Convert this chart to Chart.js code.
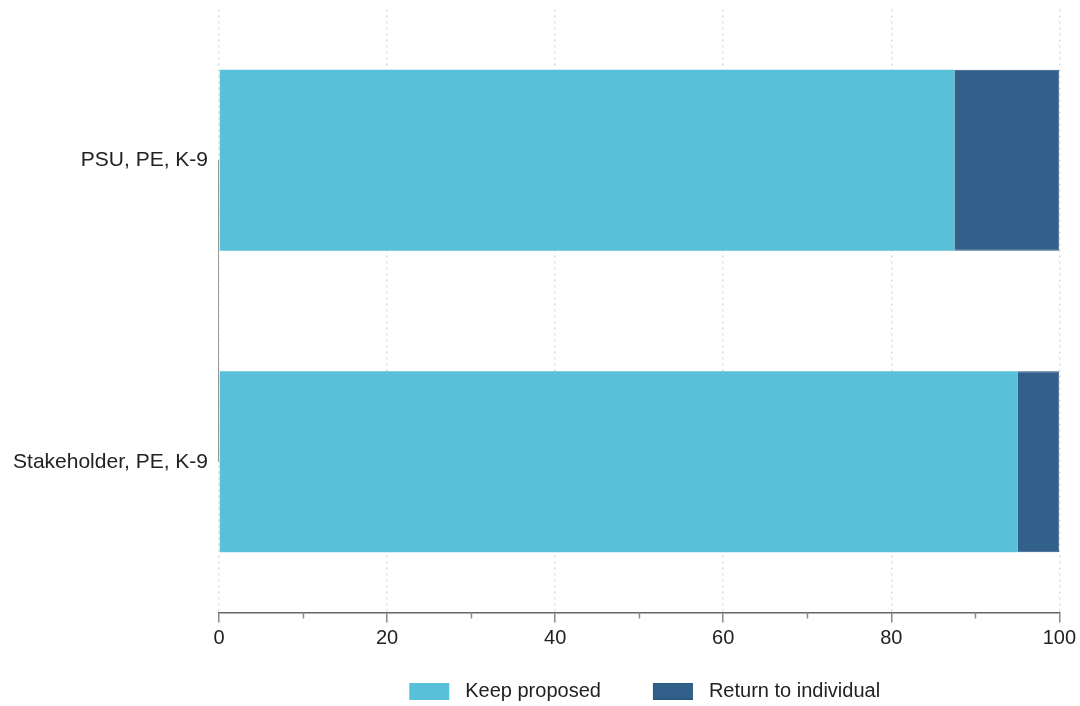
<!DOCTYPE html>
<html>
<head>
<meta charset="utf-8">
<script src="https://cdn.jsdelivr.net/npm/chart.js@4/dist/chart.umd.min.js"></script>
<style>
  html, body { margin: 0; padding: 0; background: #fff; }
  #wrap { width: 1080px; height: 706px; }
</style>
</head>
<body>
<div id="wrap"><canvas id="chart" width="1080" height="706"></canvas></div>
<script>
// data
const categories = ['PSU, PE, K-9', 'Stakeholder, PE, K-9'];
const keepProposed = [87.5, 95.0];
const returnToIndividual = [12.5, 5.0];
const minorTicks = [10, 30, 50, 70, 90];

const FONT = 'Liberation Sans, Arial, sans-serif';
const LIGHT = '#58c1d9';
const DARK = '#31608b';

// legend swatch: 40x17 box, set to the right of a 65px wide slot
function swatch(fill, stroke) {
  const c = document.createElement('canvas');
  c.width = 65; c.height = 17;
  const g = c.getContext('2d');
  g.fillStyle = fill;
  g.fillRect(19, 0, 40, 17);
  if (stroke) {
    g.strokeStyle = stroke;
    g.lineWidth = 1;
    g.strokeRect(19.5, 0.5, 39, 16);
  }
  return c;
}

const axisExtras = {
  id: 'axisExtras',
  // center the legend under the plot area rather than the whole canvas
  afterLayout(chart) {
    const lg = chart.legend, area = chart.chartArea;
    if (!lg) return;
    lg.left = area.left - 4;
    lg.right = area.right - 4;
  },
  // minor ticks on the x axis and the short y axis line between categories
  afterDraw(chart) {
    const ctx = chart.ctx;
    const x = chart.scales.x, y = chart.scales.y;
    ctx.save();
    ctx.strokeStyle = '#888';
    ctx.lineWidth = 1.5;
    minorTicks.forEach(v => {
      const px = Math.round(x.getPixelForValue(v)) + 0.5;
      ctx.beginPath();
      ctx.moveTo(px, x.top);
      ctx.lineTo(px, x.top + 6);
      ctx.stroke();
    });
    ctx.strokeStyle = '#999';
    ctx.lineWidth = 1;
    const lx = Math.round(x.getPixelForValue(0)) - 0.5;
    ctx.beginPath();
    ctx.moveTo(lx, y.getPixelForValue(0));
    ctx.lineTo(lx, y.getPixelForValue(categories.length - 1));
    ctx.stroke();
    ctx.restore();
  }
};

new Chart(document.getElementById('chart'), {
  type: 'bar',
  data: {
    labels: categories,
    datasets: [
      {
        label: 'Keep proposed',
        data: keepProposed,
        backgroundColor: LIGHT,
        borderWidth: 0,
        pointStyle: swatch(LIGHT, null)
      },
      {
        label: 'Return to individual',
        data: returnToIndividual,
        backgroundColor: DARK,
        borderColor: '#2a5580',
        borderWidth: 1,
        pointStyle: swatch(DARK, '#2a5580')
      }
    ]
  },
  options: {
    indexAxis: 'y',
    responsive: false,
    animation: false,
    categoryPercentage: 1,
    barPercentage: 0.6,
    layout: { padding: { left: 0, right: 20, top: 9.5, bottom: -5 } },
    plugins: {
      legend: {
        position: 'bottom',
        labels: {
          color: '#222',
          font: { family: FONT, size: 20 },
          usePointStyle: true,
          pointStyleWidth: 65,
          boxHeight: 17,
          padding: 33
        }
      },
      tooltip: { enabled: false }
    },
    scales: {
      x: {
        stacked: true,
        min: 0,
        max: 100,
        ticks: { stepSize: 20, color: '#222', font: { family: FONT, size: 20 }, padding: 4 },
        grid: {
          color: '#d9d9d9',
          tickColor: '#888',
          tickBorderDash: [],
          tickLength: 10,
          lineWidth: 1.5,
          tickWidth: 1.5
        },
        border: { display: true, color: '#666', width: 1.5, dash: [2, 4] },
        afterFit(scale) { scale.height = 35.5; }
      },
      y: {
        stacked: true,
        ticks: { color: '#222', font: { family: FONT, size: 21 }, padding: 11 },
        grid: { display: false, drawTicks: false },
        border: { display: false },
        afterFit(scale) {
          scale.width = 219;
          scale.paddingTop = 0;
          scale.paddingBottom = 0;
        }
      }
    }
  },
  plugins: [axisExtras]
});
</script>
</body>
</html>
